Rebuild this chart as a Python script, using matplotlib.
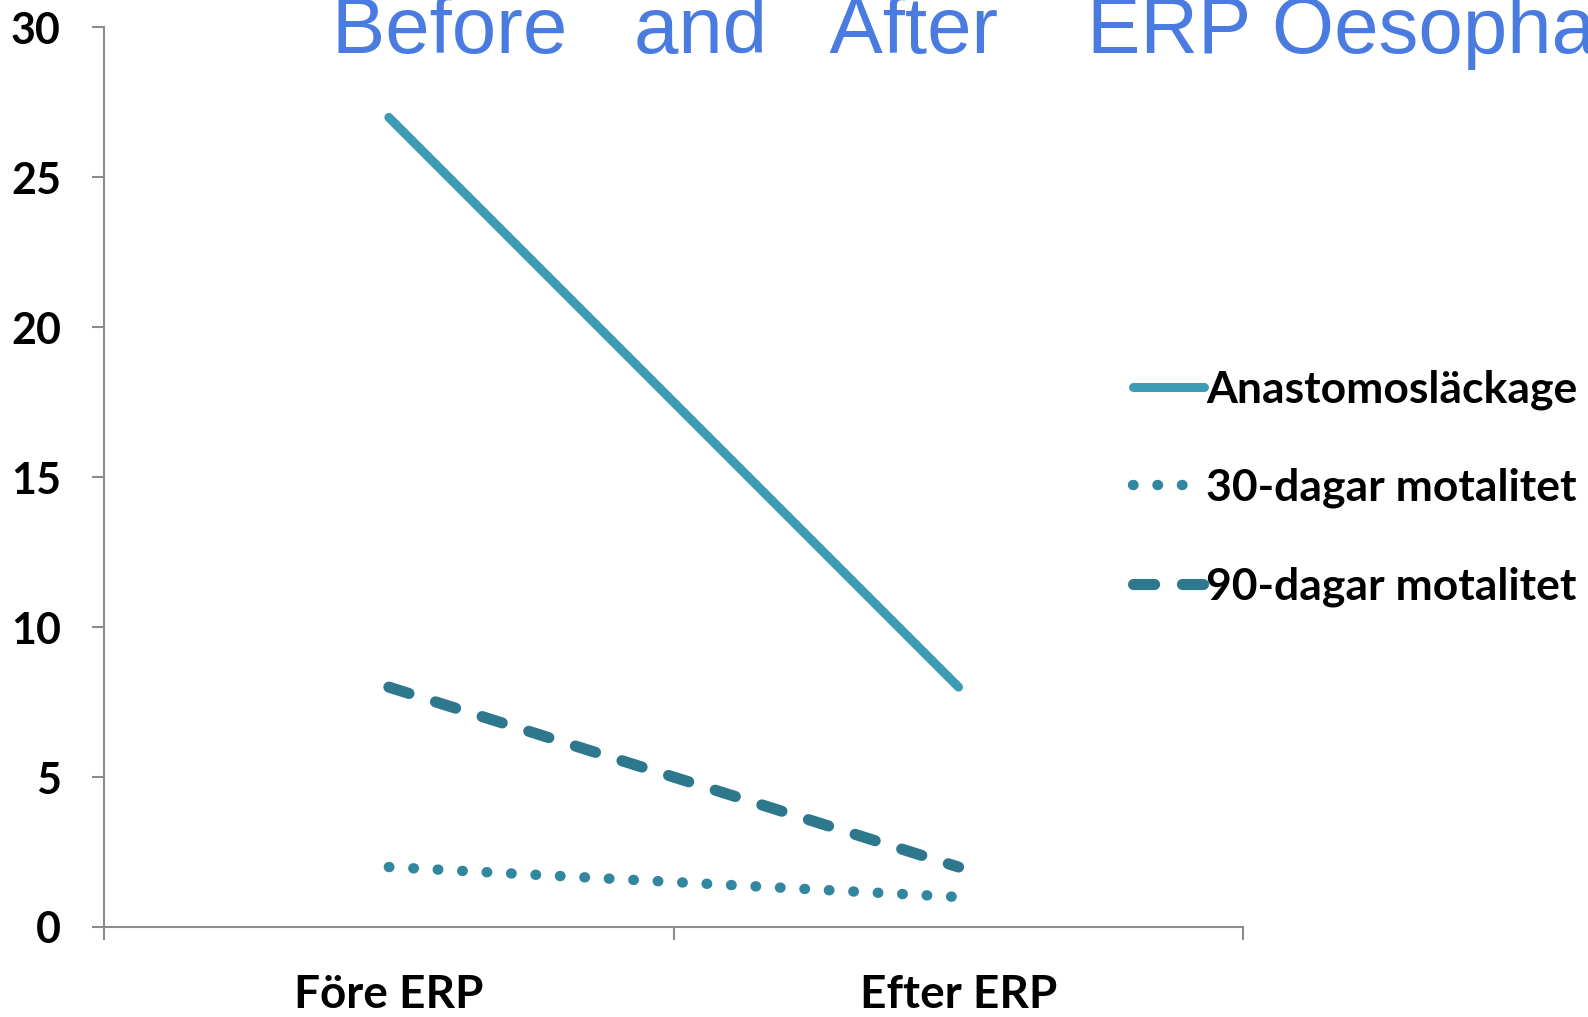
import matplotlib.pyplot as plt

categories = ['Före ERP', 'Efter ERP']
anastomos = [27, 8]
dagar30 = [2, 1]
dagar90 = [8, 2]
series_names = ['Anastomosläckage', '30-dagar motalitet', '90-dagar motalitet']
title = 'Before   and   After    ERP Oesophagectomy'

plt.rcParams['font.family'] = ['Lato', 'DejaVu Sans']

fig = plt.figure(figsize=(15.88, 10.17), dpi=100)
ax = fig.add_axes([0.0655, 0.0885, 0.7175, 0.8845])

x = list(range(len(categories)))
l1, = ax.plot(x, anastomos, color='#3e9bb5', lw=6.5, solid_capstyle='round')
l2, = ax.plot(x, dagar30, color='#31879f', lw=7.5, dash_capstyle='round',
              linestyle=(0, (0.05, 2.3)))
l3, = ax.plot(x, dagar90, color='#2e788e', lw=8, dash_capstyle='round',
              linestyle=(0, (1.9, 2.5)))

ax.set_xlim(-0.5, 1.5)
ax.set_ylim(0, 30)
ax.set_yticks([0, 5, 10, 15, 20, 25, 30])
ax.set_xticks([-0.5, 0.5, 1.5])
ax.set_xticklabels([])
ax.set_xticks(x, minor=True)
ax.set_xticklabels(categories, minor=True)

for s in ['top', 'right']:
    ax.spines[s].set_visible(False)
for s in ['left', 'bottom']:
    ax.spines[s].set_color('#8c8c8c')
    ax.spines[s].set_linewidth(1.5)

ax.tick_params(axis='y', length=9, width=1.5, color='#8c8c8c', pad=22,
               labelsize=31)
ax.tick_params(axis='x', which='major', length=9, width=1.5, color='#8c8c8c')
ax.tick_params(axis='x', which='minor', length=0, pad=34, labelsize=33)
for lab in ax.get_yticklabels() + ax.get_xticklabels(minor=True):
    lab.set_fontweight('bold')

leg = fig.legend([l1, l2, l3], series_names, loc='upper left',
                 bbox_to_anchor=(0.688, 0.676), frameon=False,
                 prop={'size': 32, 'weight': 'bold'},
                 handlelength=1.6, handletextpad=0.05, labelspacing=1.3)

fig.text(0.209, 1 - 53 / 1017, title, color='#4a7be0', fontsize=57.5,
         family='Liberation Sans', va='baseline', ha='left')

fig.savefig('out.png', dpi=100)
